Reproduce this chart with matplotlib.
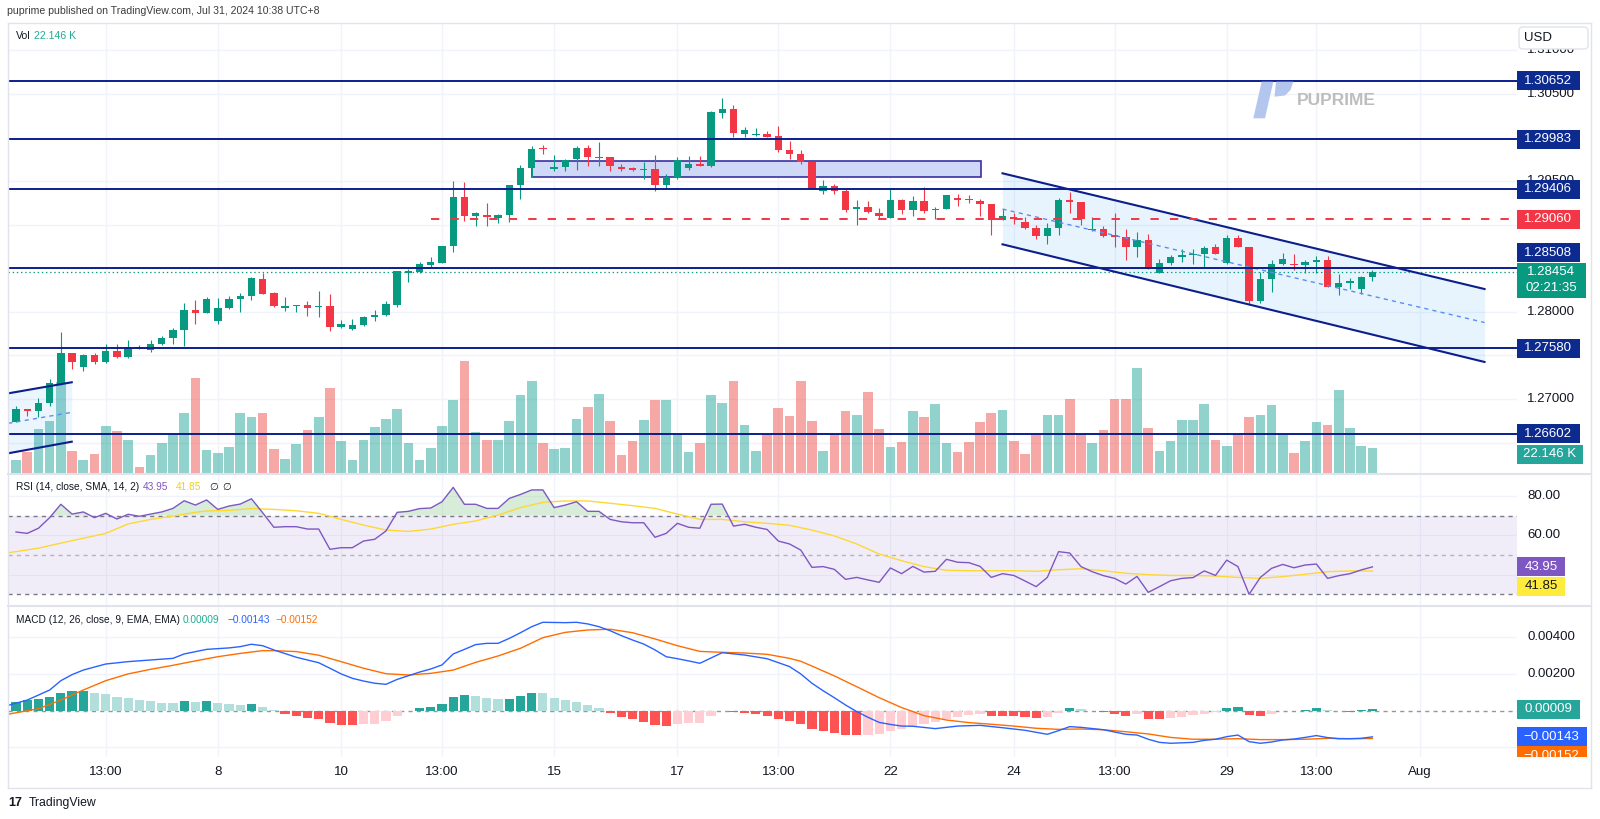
#!/usr/bin/env python3
"""Rebuild of a TradingView 4h FX chart: price with levels, volume, RSI and MACD panes."""

import matplotlib

matplotlib.use("Agg")
import matplotlib.pyplot as plt  # noqa: E402
import numpy as np  # noqa: E402
from matplotlib.colors import to_rgba  # noqa: E402
from matplotlib.lines import Line2D  # noqa: E402
from matplotlib.patches import FancyBboxPatch, Polygon, Rectangle  # noqa: E402
from matplotlib.transforms import IdentityTransform  # noqa: E402

W, H = 1600, 819
plt.rcParams["font.family"] = ["Liberation Sans", "DejaVu Sans"]
plt.rcParams["lines.scale_dashes"] = False

GREEN = "#089981"
RED = "#f23645"
NAVY = "#0b1e8c"
NAVY_BOX = "#0d2a8f"
TEXT = "#131722"
GRID = "#f0f3fa"
BORDER = "#e0e3eb"

# ---- price candles (4h) ----
open_ = [
    1.26740, 1.26881, 1.26858, 1.26950, 1.27172, 1.27532, 1.27371, 1.27501, 1.27428, 1.27551,
    1.27478, 1.27600, 1.27562, 1.27631, 1.27704, 1.27796, 1.28021, 1.27983, 1.27891, 1.28040,
    1.28144, 1.28182, 1.28373, 1.28213, 1.28044, 1.28067, 1.28079, 1.28059, 1.28063, 1.27830,
    1.27803, 1.27853, 1.27945, 1.27960, 1.28079, 1.28450, 1.28461, 1.28541, 1.28564, 1.28756,
    1.29318, 1.29104, 1.29115, 1.29081, 1.29111, 1.29460, 1.29651, 1.29880, 1.29643, 1.29666,
    1.29750, 1.29884, 1.29769, 1.29773, 1.29662, 1.29647, 1.29628, 1.29636, 1.29460, 1.29540,
    1.29651, 1.29697, 1.29678, 1.30286, 1.30328, 1.30045, 1.30026, 1.30037, 1.30018, 1.29857,
    1.29811, 1.29720, 1.29391, 1.29444, 1.29387, 1.29177, 1.29207, 1.29138, 1.29081, 1.29284,
    1.29169, 1.29276, 1.29165, 1.29180, 1.29307, 1.29291, 1.29276, 1.29238, 1.29054, 1.29092,
    1.29031, 1.28966, 1.28874, 1.28962, 1.29284, 1.29264, 1.28943, 1.28955, 1.28882, 1.28855,
    1.28740, 1.28825, 1.28450, 1.28561, 1.28633, 1.28656, 1.28664, 1.28740, 1.28557, 1.28848,
    1.28744, 1.28121, 1.28377, 1.28545, 1.28553, 1.28534, 1.28576, 1.28595, 1.28281, 1.28335,
    1.28262, 1.28404,
]
high_ = [
    1.26920, 1.26881, 1.27008, 1.27226, 1.27765, 1.27532, 1.27516, 1.27532, 1.27627, 1.27635,
    1.27677, 1.27620, 1.27677, 1.27723, 1.27818, 1.28105, 1.28136, 1.28167, 1.28155, 1.28182,
    1.28213, 1.28400, 1.28450, 1.28228, 1.28167, 1.28075, 1.28125, 1.28243, 1.28205, 1.27903,
    1.27914, 1.27952, 1.28021, 1.28125, 1.28473, 1.28488, 1.28576, 1.28633, 1.28760, 1.29502,
    1.29490, 1.29146, 1.29245, 1.29123, 1.29452, 1.29685, 1.29903, 1.29911, 1.29804, 1.29750,
    1.29903, 1.29915, 1.29949, 1.29773, 1.29697, 1.29658, 1.29720, 1.29796, 1.29582, 1.29781,
    1.29789, 1.29789, 1.30301, 1.30450, 1.30370, 1.30125, 1.30106, 1.30075, 1.30133, 1.29964,
    1.29857, 1.29720, 1.29513, 1.29463, 1.29418, 1.29284, 1.29268, 1.29188, 1.29406, 1.29291,
    1.29330, 1.29429, 1.29199, 1.29345, 1.29349, 1.29341, 1.29291, 1.29238, 1.29177, 1.29138,
    1.29085, 1.28997, 1.29016, 1.29307, 1.29379, 1.29264, 1.29085, 1.28985, 1.29134, 1.28947,
    1.28916, 1.28893, 1.28603, 1.28656, 1.28725, 1.28725, 1.28760, 1.28779, 1.28878, 1.28878,
    1.28744, 1.28461, 1.28595, 1.28675, 1.28664, 1.28595, 1.28641, 1.28641, 1.28434, 1.28388,
    1.28411, 1.28480,
]
low_ = [
    1.26732, 1.26809, 1.26789, 1.26920, 1.27164, 1.27340, 1.27317, 1.27402, 1.27409, 1.27470,
    1.27470, 1.27577, 1.27543, 1.27620, 1.27627, 1.27608, 1.27864, 1.27983, 1.27861, 1.28029,
    1.28002, 1.28132, 1.28201, 1.28056, 1.28014, 1.27994, 1.27956, 1.27937, 1.27780, 1.27818,
    1.27792, 1.27841, 1.27891, 1.27952, 1.28059, 1.28346, 1.28450, 1.28499, 1.28557, 1.28691,
    1.29039, 1.28989, 1.28989, 1.29023, 1.29031, 1.29299, 1.29551, 1.29811, 1.29620, 1.29620,
    1.29628, 1.29678, 1.29678, 1.29620, 1.29620, 1.29620, 1.29521, 1.29383, 1.29410, 1.29528,
    1.29628, 1.29674, 1.29666, 1.30221, 1.30003, 1.30010, 1.30022, 1.30003, 1.29834, 1.29750,
    1.29693, 1.29406, 1.29352, 1.29349, 1.29150, 1.28997, 1.29131, 1.29062, 1.29081, 1.29123,
    1.29100, 1.29134, 1.29062, 1.29177, 1.29219, 1.29245, 1.29100, 1.28878, 1.29054, 1.29008,
    1.28955, 1.28840, 1.28779, 1.28878, 1.29134, 1.28997, 1.28932, 1.28863, 1.28740, 1.28591,
    1.28633, 1.28492, 1.28450, 1.28541, 1.28572, 1.28549, 1.28507, 1.28664, 1.28549, 1.28740,
    1.28079, 1.28105, 1.28228, 1.28538, 1.28480, 1.28450, 1.28442, 1.28281, 1.28197, 1.28262,
    1.28205, 1.28350,
]
close_ = [
    1.26881, 1.26858, 1.26954, 1.27180, 1.27532, 1.27421, 1.27501, 1.27428, 1.27551, 1.27478,
    1.27600, 1.27577, 1.27631, 1.27704, 1.27796, 1.28021, 1.27983, 1.28144, 1.28040, 1.28144,
    1.28182, 1.28385, 1.28209, 1.28063, 1.28071, 1.28075, 1.28048, 1.28063, 1.27822, 1.27864,
    1.27853, 1.27941, 1.27964, 1.28086, 1.28465, 1.28473, 1.28545, 1.28576, 1.28760, 1.29318,
    1.29104, 1.29138, 1.29092, 1.29115, 1.29452, 1.29655, 1.29873, 1.29873, 1.29658, 1.29743,
    1.29884, 1.29777, 1.29777, 1.29674, 1.29643, 1.29632, 1.29636, 1.29460, 1.29544, 1.29743,
    1.29697, 1.29678, 1.30290, 1.30328, 1.30049, 1.30087, 1.30037, 1.30010, 1.29854, 1.29811,
    1.29716, 1.29414, 1.29444, 1.29383, 1.29173, 1.29207, 1.29142, 1.29104, 1.29284, 1.29173,
    1.29276, 1.29161, 1.29177, 1.29337, 1.29287, 1.29284, 1.29234, 1.29054, 1.29100, 1.29069,
    1.28962, 1.28874, 1.28962, 1.29284, 1.29261, 1.29062, 1.28955, 1.28874, 1.28855, 1.28740,
    1.28825, 1.28492, 1.28564, 1.28633, 1.28656, 1.28668, 1.28737, 1.28664, 1.28848, 1.28744,
    1.28121, 1.28373, 1.28545, 1.28607, 1.28534, 1.28576, 1.28595, 1.28281, 1.28335, 1.28354,
    1.28404, 1.28454,
]
# volume in thousands
volume_k = [
    11.2, 18.4, 37.9, 44.8, 78.7, 19.8, 11.8, 17.0, 40.8, 36.2,
    29.0, 5.5, 16.1, 26.1, 33.6, 52.3, 82.2, 20.1, 17.5, 22.7,
    52.3, 48.3, 51.7, 21.5, 12.4, 25.3, 37.1, 48.3, 73.3, 28.4,
    11.8, 29.0, 39.9, 46.8, 55.7, 26.4, 11.8, 22.1, 40.8, 62.9,
    96.5, 35.6, 29.0, 29.0, 45.4, 67.2, 79.9, 25.9, 21.3, 22.1,
    46.8, 57.5, 68.7, 45.4, 16.1, 28.2, 46.3, 62.9, 62.9, 33.6,
    18.4, 25.9, 67.2, 60.3, 79.3, 42.2, 19.8, 33.6, 56.6, 49.1,
    79.3, 45.4, 19.8, 33.6, 53.4, 50.6, 70.1, 37.9, 22.7, 27.3,
    53.4, 48.3, 59.5, 25.9, 18.4, 27.3, 44.5, 52.0, 54.9, 27.6,
    16.7, 33.6, 50.0, 50.6, 64.1, 33.6, 25.9, 37.1, 64.1, 64.1,
    91.1, 39.4, 19.0, 27.6, 46.3, 46.3, 59.5, 28.7, 23.6, 33.6,
    48.3, 50.0, 58.6, 32.8, 17.5, 28.2, 44.5, 41.4, 72.1, 39.4,
    24.1, 22.146,
]

# ---- RSI(14) and its SMA ----
rsi = [
    61.7, 61.0, 63.6, 69.0, 75.8, 70.8, 71.9, 69.0, 71.2, 68.3,
    70.7, 69.7, 70.8, 71.9, 73.7, 77.6, 75.4, 78.0, 73.2, 74.9,
    75.9, 78.6, 71.5, 64.1, 64.4, 64.4, 63.2, 63.2, 52.9, 53.7,
    53.7, 57.1, 58.0, 62.2, 71.7, 72.2, 73.6, 73.9, 77.1, 84.4,
    75.8, 75.8, 73.7, 73.7, 78.8, 80.8, 83.1, 83.1, 74.1, 75.4,
    77.1, 72.2, 72.2, 68.1, 66.9, 66.4, 66.4, 59.0, 61.0, 66.1,
    64.1, 63.6, 75.8, 75.9, 64.7, 65.6, 64.1, 63.0, 57.1, 55.6,
    52.5, 43.7, 44.1, 42.7, 37.6, 38.6, 37.3, 36.1, 43.4, 40.5,
    44.2, 41.3, 41.7, 47.8, 46.3, 46.1, 44.2, 38.6, 40.5, 39.6,
    36.8, 33.9, 38.6, 51.7, 51.0, 44.1, 41.5, 39.5, 38.1, 35.2,
    39.1, 31.0, 33.9, 36.9, 38.1, 38.5, 41.9, 39.6, 47.4, 44.1,
    30.0, 38.6, 43.2, 45.2, 43.5, 44.9, 45.4, 38.1, 39.5, 40.5,
    42.4, 43.95,
]
rsi_sma_at = [
    -0.65, 0, 2, 5, 8, 10, 12, 14, 16, 17, 19, 21, 23, 25, 27, 29, 31, 33, 35, 37, 39,
    41, 43, 45, 47, 49, 51, 53, 55, 57, 59, 61, 63, 65, 67, 69, 71, 73, 75, 77, 79,
    81, 83, 85, 87, 89, 91, 93, 95, 97, 99, 101, 103, 105, 107, 109, 111, 113, 115, 117, 119, 121,
]
rsi_sma = [
    51.2, 51.7, 53.5, 57.3, 61.0, 65.8, 68.1, 69.8, 71.7, 72.4, 72.7, 73.6, 73.2, 72.5, 71.2, 68.1,
    65.2, 62.7, 62.0, 63.2, 65.6, 67.3, 70.3, 74.1, 76.8, 77.5, 77.5, 76.3, 75.1, 73.7, 70.8,
    68.1, 68.1, 66.9, 66.1, 65.1, 62.7, 59.7, 55.6, 50.5, 47.1, 44.1, 42.2, 42.0, 42.0, 42.0,
    41.7, 42.5, 43.0, 42.0, 40.7, 40.0, 39.6, 39.6, 39.3, 38.6, 38.1, 39.0, 40.2, 41.5, 41.9, 41.85,
]

# ---- MACD(12, 26, 9) ----
macd_hist = [
    0.00049, 0.00058, 0.00062, 0.00075, 0.00099, 0.00106, 0.00107, 0.00097, 0.00089, 0.00075,
    0.00069, 0.00060, 0.00053, 0.00044, 0.00043, 0.00053, 0.00048, 0.00053, 0.00042, 0.00037,
    0.00033, 0.00037, 0.00022, 0.00006, -0.00016, -0.00027, -0.00042, -0.00045, -0.00065, -0.00076,
    -0.00080, -0.00073, -0.00071, -0.00055, -0.00027, 0.00001, 0.00013, 0.00022, 0.00037, 0.00075,
    0.00084, 0.00080, 0.00069, 0.00064, 0.00066, 0.00080, 0.00095, 0.00094, 0.00069, 0.00058,
    0.00049, 0.00029, 0.00015, -0.00011, -0.00033, -0.00045, -0.00060, -0.00076, -0.00084, -0.00074,
    -0.00069, -0.00068, -0.00029, -0.00003, -0.00009, -0.00013, -0.00018, -0.00027, -0.00044, -0.00056,
    -0.00073, -0.00098, -0.00109, -0.00120, -0.00133, -0.00134, -0.00132, -0.00127, -0.00109, -0.00098,
    -0.00087, -0.00074, -0.00060, -0.00047, -0.00034, -0.00023, -0.00020, -0.00027, -0.00028, -0.00029,
    -0.00033, -0.00038, -0.00034, -0.00013, 0.00015, 0.00009, 0.00001, -0.00009, -0.00016, -0.00027,
    -0.00020, -0.00044, -0.00047, -0.00042, -0.00034, -0.00023, -0.00016, -0.00009, 0.00013, 0.00018,
    -0.00022, -0.00027, -0.00016, -0.00003, 0.00001, 0.00006, 0.00015, 0.00004, 0.00001, -0.00007,
    0.00002, 0.00009,
]
macd_at = [
    -0.6, 1, 3, 4, 5, 6, 8, 10, 12, 14, 15, 17, 19, 20, 21, 22, 23, 25, 27, 28, 29, 30, 31, 32,
    33, 34, 35, 36, 37, 38, 39, 40, 41, 42, 43, 44, 45, 46, 47, 49, 50, 51, 52, 53, 54, 55, 56,
    57, 58, 59, 60, 61, 63, 65, 67, 69, 70, 71, 72, 73, 74, 75, 76, 77, 78, 79, 80, 82, 84, 86,
    88, 90, 92, 93, 94, 95, 97, 99, 100, 101, 102, 103, 105, 106, 107, 108, 109, 110, 111, 112,
    113, 114, 115, 116, 117, 118, 119, 120, 121,
]
macd_line = [
    0.00031, 0.00058, 0.00113, 0.00164, 0.00197, 0.00222, 0.00255, 0.00268, 0.00277, 0.00286,
    0.00310, 0.00335, 0.00343, 0.00350, 0.00363, 0.00355, 0.00332, 0.00292, 0.00262, 0.00232,
    0.00201, 0.00177, 0.00162, 0.00150, 0.00144, 0.00171, 0.00191, 0.00211, 0.00228, 0.00250,
    0.00310, 0.00335, 0.00361, 0.00368, 0.00368, 0.00395, 0.00426, 0.00459, 0.00483, 0.00481,
    0.00483, 0.00474, 0.00459, 0.00437, 0.00410, 0.00386, 0.00364, 0.00332, 0.00295, 0.00284,
    0.00272, 0.00259, 0.00317, 0.00304, 0.00284, 0.00241, 0.00201, 0.00150, 0.00109, 0.00071,
    0.00031, -0.00005, -0.00036, -0.00064, -0.00075, -0.00084, -0.00085, -0.00098, -0.00084, -0.00080,
    -0.00093, -0.00107, -0.00129, -0.00109, -0.00087, -0.00091, -0.00104, -0.00129, -0.00133, -0.00156,
    -0.00173, -0.00178, -0.00173, -0.00162, -0.00156, -0.00142, -0.00133, -0.00169, -0.00178, -0.00171,
    -0.00160, -0.00155, -0.00146, -0.00136, -0.00147, -0.00153, -0.00153, -0.00151, -0.00143,
]
signal_at = [
    -0.6, 2, 4, 6, 8, 10, 12, 14, 16, 18, 20, 22, 23, 25, 27, 29, 31, 33, 35, 37, 39, 41, 43,
    45, 47, 49, 51, 53, 55, 57, 59, 61, 63, 65, 67, 69, 70, 71, 73, 75, 77, 79, 81, 83, 85, 87,
    89, 91, 93, 95, 97, 99, 101, 103, 105, 107, 109, 111, 113, 115, 117, 119, 121,
]
signal_line = [
    -0.00018, 0.00011, 0.00058, 0.00113, 0.00164, 0.00201, 0.00226, 0.00248, 0.00272, 0.00295,
    0.00313, 0.00328, 0.00328, 0.00323, 0.00303, 0.00268, 0.00232, 0.00202, 0.00195, 0.00204,
    0.00222, 0.00264, 0.00299, 0.00341, 0.00399, 0.00428, 0.00441, 0.00445, 0.00426, 0.00392,
    0.00355, 0.00324, 0.00319, 0.00315, 0.00308, 0.00286, 0.00270, 0.00244, 0.00190, 0.00131,
    0.00071, 0.00017, -0.00027, -0.00051, -0.00065, -0.00074, -0.00084, -0.00096, -0.00102, -0.00100,
    -0.00104, -0.00115, -0.00127, -0.00146, -0.00156, -0.00156, -0.00153, -0.00158, -0.00158, -0.00156,
    -0.00151, -0.00153, -0.00152,
]

# ---- drawings ----
levels = [1.30652, 1.29983, 1.29406, 1.28508, 1.27580, 1.26602]
resistance = 1.29060
resistance_from = 37.0
zone_j = (46.03, 86.06)
zone_p = (1.29544, 1.29731)
chan_j = [88.0, 131.0]
chan_upper = [1.29590, 1.28262]
chan_mid = [1.29180, 1.27878]
chan_lower = [1.28775, 1.27425]
rise_j = [-0.69, 4.97]
rise_upper = [1.27065, 1.27192]
rise_mid = [1.26721, 1.26847]
rise_lower = [1.26377, 1.26510]

tick_pos = [8, 18, 29, 38, 48, 59, 68, 78, 89, 98, 108, 116, 125.2]
tick_lab = ["13:00", "8", "10", "13:00", "15", "17", "13:00", "22", "24", "13:00", "29", "13:00", "Aug"]
# scale labels that are not hidden behind the value tags
price_ticks = [1.310, 1.305, 1.295, 1.280, 1.270]
rsi_ticks = [80, 60]
macd_ticks = [0.004, 0.002]

# pixel layout of the TradingView panes
LEFT, RIGHT, SCALE_R = 8.3, 1516.7, 1591.0
MAIN_P, RSI_P, MACD_P = (23.0, 473.5), (474.0, 606.0), (606.0, 757.0)
XLIM = (-0.69, 133.87)
PRICE_LIM = (1.26145, 1.31315)
VOL_LIM = (0, 388)
RSI_LIM = (24.05, 91.2)
MACD_LIM = (-0.00253, 0.00572)

o = np.array(open_)
hi = np.array(high_)
lo = np.array(low_)
c = np.array(close_)
x = np.arange(len(c))
up = c >= o
candle_col = np.where(up, GREEN, RED)

fig = plt.figure(figsize=(W / 100, H / 100), dpi=100)
fig.patch.set_facecolor("white")


def pane(x0, x1, yy, xlim=XLIM, ylim=None):
    a = fig.add_axes([x0 / W, 1 - yy[1] / H, (x1 - x0) / W, (yy[1] - yy[0]) / H])
    a.set_axis_off()
    a.set_xlim(*xlim)
    if ylim is not None:
        a.set_ylim(*ylim)
    return a


def ppu(a):
    """pixels per data unit on the y axis"""
    y0, y1 = a.get_ylim()
    return a.get_position().height * H / (y1 - y0)


def ftext(xpx, ypx, s, **kw):
    kw.setdefault("va", "center")
    fig.text(xpx / W, 1 - ypx / H, s, **kw)


def px_line(x0, x1, y0, y1, color=BORDER, lw=1.0):
    fig.add_artist(Line2D([x0, x1], [H - y0, H - y1], color=color, lw=lw,
                          transform=IdentityTransform()))


def signed(v):
    return f"{v:.5f}".replace("-", "\u2212")


def tag(scale, value, text, bg, fg="white", width=63.3, shift=0.0, sub=None):
    k = ppu(scale)
    yc = value - shift / k
    top = yc + 9.5 / k
    bot = yc - (9.5 + (16 if sub else 0)) / k
    scale.add_patch(Rectangle((0, bot), width, top - bot, facecolor=bg,
                              edgecolor="none", zorder=5))
    scale.text(width / 2, yc, text, color=fg, ha="center", va="center",
               fontsize=9.5, zorder=6)
    if sub:
        scale.text(width / 2, yc - 16 / k, sub, color=fg, ha="center",
                   va="center", fontsize=9.5, zorder=6)


# ---- main pane: grid, volume, price ----
gax = pane(LEFT, RIGHT, MAIN_P, ylim=PRICE_LIM)
for t in tick_pos:
    gax.axvline(t, color=GRID, lw=1)
for p in np.arange(1.265, 1.3101, 0.005):
    gax.axhline(p, color=GRID, lw=1)

vax = pane(LEFT, RIGHT, MAIN_P, ylim=VOL_LIM)
vax.bar(x, volume_k, width=0.86,
        color=[to_rgba("#26a69a" if u else "#ef5350", 0.5) for u in up], lw=0)

ax = pane(LEFT, RIGHT, MAIN_P, ylim=PRICE_LIM)
# channels and zone
ax.fill_between(rise_j, rise_lower, rise_upper, color="#2196f3", alpha=0.09, lw=0, zorder=1)
ax.plot(rise_j, rise_upper, color=NAVY, lw=1.5, zorder=5)
ax.plot(rise_j, rise_lower, color=NAVY, lw=1.5, zorder=5)
ax.plot(rise_j, rise_mid, color="#5b8def", lw=1.0, ls=(0, (3, 3)), zorder=5)
ax.fill_between(chan_j, chan_lower, chan_upper, color="#2196f3", alpha=0.1, lw=0, zorder=1)
ax.plot(chan_j, chan_upper, color=NAVY, lw=1.5, zorder=5)
ax.plot(chan_j, chan_lower, color=NAVY, lw=1.5, zorder=5)
ax.plot(chan_j, chan_mid, color="#5b8def", lw=1.0, ls=(0, (3, 3)), zorder=5)
ax.add_patch(Rectangle((zone_j[0], zone_p[0]), zone_j[1] - zone_j[0], zone_p[1] - zone_p[0],
                       facecolor="#cfd8f6", edgecolor="#3b31a3", lw=1.2, zorder=2))

# candles
ax.vlines(x, lo, hi, colors=candle_col, lw=0.8, zorder=3)
body_lo = np.minimum(o, c)
body_h = np.maximum(np.abs(c - o), 0.00013)
ax.bar(x, body_h, bottom=body_lo, width=0.66, color=candle_col, lw=0, zorder=4)

# horizontal levels
for lv in levels:
    ax.axhline(lv, color=NAVY, lw=1.4, zorder=5)
ax.hlines(resistance, resistance_from, XLIM[1], color=RED, lw=1.4,
          linestyles=(0, (6, 8)), zorder=5)
ax.axhline(c[-1], color=GREEN, lw=0.9, ls=(0, (1, 2)), zorder=4)

# watermark
fig.add_artist(Polygon([(1261.7, H - 81.7), (1273.3, H - 81.7), (1265, H - 118.3),
                        (1253.3, H - 118.3)], closed=True, facecolor="#b3c7ee",
                       edgecolor="none", transform=IdentityTransform(), zorder=0.5))
fig.add_artist(Polygon([(1276, H - 81.7), (1293.3, H - 81.7), (1290.5, H - 90),
                        (1285, H - 95.5), (1274.5, H - 96.7)], closed=True,
                       facecolor="#b3c7ee", edgecolor="none",
                       transform=IdentityTransform(), zorder=0.5))
ftext(1296.5, 100.7, "PUPRIME", fontsize=12.5, fontweight="bold", color="#bdbdbd")

# ---- RSI pane ----
rax = pane(LEFT, RIGHT, RSI_P, ylim=RSI_LIM)
for t in tick_pos:
    rax.axvline(t, color=GRID, lw=1, zorder=0)
for g in (40, 60, 80):
    rax.axhline(g, color=GRID, lw=1, zorder=0)
rax.axhspan(30, 70, color="#7e57c2", alpha=0.1, lw=0, zorder=0.5)
r = np.array(rsi)
rax.fill_between(x, 70, r, where=r > 70, interpolate=True, color="#66bb6a",
                 alpha=0.25, lw=0, zorder=1)
for lv, al in ((70, 1.0), (50, 0.5), (30, 1.0)):
    rax.axhline(lv, color="#787b86", lw=1, ls=(0, (3, 3)), alpha=al, zorder=1)
rax.plot(rsi_sma_at, rsi_sma, color="#fdd835", lw=1.0, zorder=2)
rax.plot(x, r, color="#7e57c2", lw=1.0, zorder=3)

# ---- MACD pane ----
max_ = pane(LEFT, RIGHT, MACD_P, ylim=MACD_LIM)
for t in tick_pos:
    max_.axvline(t, color=GRID, lw=1, zorder=0)
for g in (0.004, 0.002, -0.002):
    max_.axhline(g, color=GRID, lw=1, zorder=0)
max_.axhline(0, color="#9598a1", lw=1, ls=(0, (3, 3)), zorder=1)
hist = np.array(macd_hist)
prev = np.concatenate([[-1.0], hist[:-1]])
hist_col = np.where(hist >= 0,
                    np.where(hist > prev, "#26a69a", "#b2dfdb"),
                    np.where(hist > prev, "#ffcdd2", "#ff5252"))
max_.bar(x, hist, width=0.82, color=hist_col, lw=0, zorder=2)
max_.plot(signal_at, signal_line, color="#ff6d00", lw=1.0, zorder=3)
max_.plot(macd_at, macd_line, color="#2962ff", lw=1.0, zorder=4)

for t, lab in zip(tick_pos, tick_lab):
    max_.text(t, -(772 - MACD_P[1]) / (MACD_P[1] - MACD_P[0]), lab,
              transform=max_.get_xaxis_transform(), ha="center", va="center",
              fontsize=9.6, color=TEXT, clip_on=False)

# ---- right-hand scales ----
SCALE_X = (0, SCALE_R - RIGHT)
ps = pane(RIGHT, SCALE_R, MAIN_P, xlim=SCALE_X, ylim=PRICE_LIM)
for p in price_ticks:
    ps.text(10.3, p, f"{p:.5f}", va="center", ha="left", fontsize=9.5, color=TEXT)
for lv in levels:
    tag(ps, lv, f"{lv:.5f}", NAVY_BOX, shift=-15 if lv == 1.28508 else 0)
tag(ps, resistance, f"{resistance:.5f}", RED)
tag(ps, c[-1], f"{c[-1]:.5f}", GREEN, width=69, sub="02:21:35")
vol_disp = vax.transData.transform((0, volume_k[-1]))
vol_on_ps = ps.transData.inverted().transform(vol_disp)[1]
tag(ps, vol_on_ps, f"{volume_k[-1]:.3f} K", "#26a69a", width=66, shift=6.5)

rs = pane(RIGHT, SCALE_R, RSI_P, xlim=SCALE_X, ylim=RSI_LIM)
for g in rsi_ticks:
    rs.text(10.3, g, f"{g:.2f}", va="center", ha="left", fontsize=9.5, color=TEXT)
tag(rs, r[-1], f"{r[-1]:.2f}", "#7e57c2", width=48.6)
tag(rs, r[-1], f"{rsi_sma[-1]:.2f}", "#ffeb3b", fg=TEXT, width=48.6, shift=19.6)

ms = pane(RIGHT, SCALE_R, MACD_P, xlim=SCALE_X, ylim=MACD_LIM)
for g in macd_ticks:
    ms.text(10.3, g, signed(g), va="center", ha="left", fontsize=9.5, color=TEXT)
tag(ms, hist[-1], f"{hist[-1]:.5f}", "#26a69a")
tag(ms, macd_line[-1], signed(macd_line[-1]), "#2962ff", width=70)
tag(ms, macd_line[-1], signed(signal_line[-1]), "#ff6d00", width=70, shift=19)

# USD button
fig.add_artist(FancyBboxPatch((1519, H - 49), 69, 22,
                              boxstyle="round,pad=0,rounding_size=4",
                              facecolor="white", edgecolor=BORDER, lw=1,
                              transform=IdentityTransform()))
ftext(1524, 38, "USD", fontsize=9.5, color=TEXT)

# ---- frame, separators and legends ----
px_line(8, SCALE_R, 23, 23)
px_line(8, SCALE_R, 788, 788)
px_line(8, 8, 23, 788)
px_line(SCALE_R, SCALE_R, 23, 788)
px_line(8, SCALE_R, 474, 474, lw=1.5)
px_line(8, SCALE_R, 606, 606, lw=1.5)

ftext(7, 11, "puprime published on TradingView.com, Jul 31, 2024 10:38 UTC+8",
      fontsize=7.6, color="#3c3c3c")
ftext(16, 36, "Vol", fontsize=7.6, color=TEXT)
ftext(34, 36, f"{volume_k[-1]:.3f} K", fontsize=7.6, color="#22ab94")
ftext(16, 487.3, "RSI (14, close, SMA, 14, 2)", fontsize=7.3, color=TEXT)
ftext(143, 487.3, f"{r[-1]:.2f}", fontsize=7.3, color="#7e57c2")
ftext(176, 487.3, f"{rsi_sma[-1]:.2f}", fontsize=7.3, color="#f2cf1b")
ftext(209, 487.3, "\u2205", fontsize=7.3, color=TEXT)
ftext(222, 487.3, "\u2205", fontsize=7.3, color=TEXT)
ftext(15.6, 620, "MACD (12, 26, close, 9, EMA, EMA)", fontsize=7.3, color=TEXT)
ftext(183, 620, f"{hist[-1]:.5f}", fontsize=7.3, color="#22ab94")
ftext(227, 620, signed(macd_line[-1]), fontsize=7.3, color="#2962ff")
ftext(275, 620, signed(signal_line[-1]), fontsize=7.3, color="#ff6d00")

ftext(8, 803, "17", fontsize=9, fontweight="heavy", color=TEXT)
ftext(29, 803, "TradingView", fontsize=8.8, color=TEXT)

fig.savefig("out.png", dpi=100, facecolor="white")
